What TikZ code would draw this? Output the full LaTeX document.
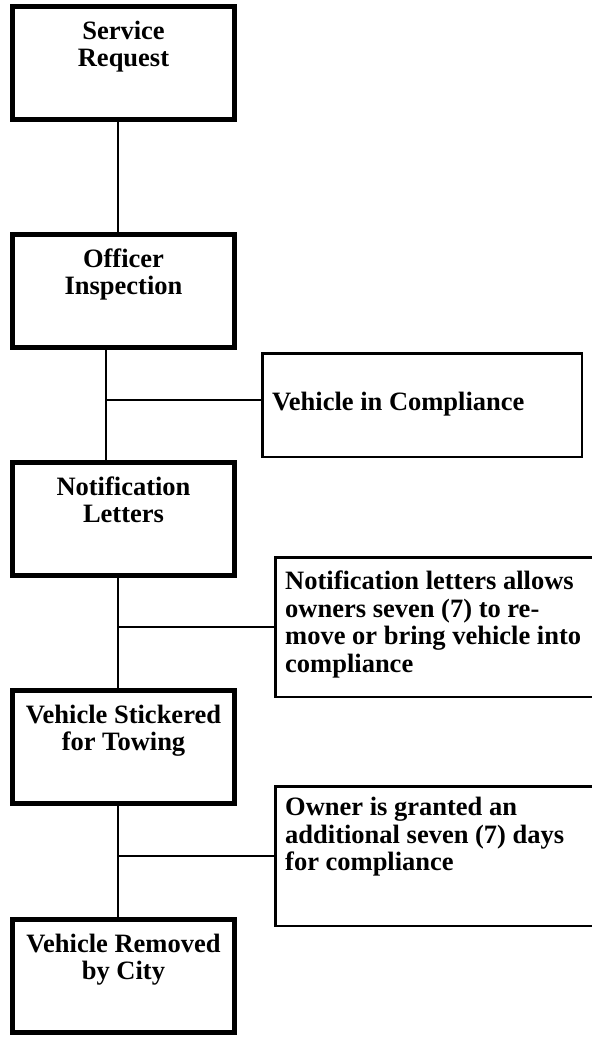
\documentclass[tikz,border=0pt]{standalone}
\usepackage{fontspec}
\setmainfont{Liberation Serif}
\usetikzlibrary{positioning}

\begin{document}
\begin{tikzpicture}[x = 1pt, y = -1pt, font = \fontsize{26.5}{27.5}\selectfont\bfseries,
  stage/.style = {draw, line width = 5pt, inner sep = 0pt, outer sep = 0pt, minimum width = 222pt, minimum height = 113pt},
  note/.style = {draw, line width = 2.5pt, inner sep = 0pt, outer sep = 0pt, anchor = north west},
  stagetext/.style = {align = center, inner sep = 0pt},
  notetext/.style = {align = left, inner sep = 0pt, anchor = north west},
  link/.style = {line width = 2.5pt}]
  \useasboundingbox (0, 0) rectangle (592, 1037);
  \clip (0, 0) rectangle (592, 1037);

  % main steps
  \node (request) [stage, anchor = north west] at (12.5, 6.5) {};
  \node (officer) [stage, below = 115pt of request] {};
  \node (letters) [stage, below = 115pt of officer] {};
  \node (sticker) [stage, below = 115pt of letters] {};
  \node (removed) [stage, below = 116pt of sticker] {};

  \node (requesttext) [stagetext, below = 14pt of request.north] {Service\\Request};
  \node (officertext) [stagetext, below = 14pt of officer.north] {Officer\\Inspection};
  \node (letterstext) [stagetext, below = 14pt of letters.north] {Notification\\Letters};
  \node (stickertext) [stagetext, below = 14pt of sticker.north] {Vehicle Stickered\\for Towing};
  \node (removedtext) [stagetext, below = 14pt of removed.north] {Vehicle Removed\\by City};

  % side notes
  \node (compliance) [note, minimum width = 319.5pt, minimum height = 103.5pt] at (262.25, 353.25) {};
  \node (notice) [note, minimum width = 330pt, minimum height = 139.5pt] at (275.25, 557.25) {};
  \node (extension) [note, minimum width = 330pt, minimum height = 139.5pt] at (275.25, 786.25) {};

  \node (compliancetext) [notetext] at (272, 392) {Vehicle in Compliance};
  \node (noticetext) [notetext] at (285, 571) {Notification letters allows\\owners seven (7) to re-\\move or bring vehicle into\\compliance};
  \node (extensiontext) [notetext] at (285, 797) {Owner is granted an\\additional seven (7) days\\for compliance};

  % connectors
  \coordinate (fork1) at (106, 400);
  \coordinate (fork2) at (118, 627);
  \coordinate (fork3) at (118, 856);

  \draw [link] ([xshift = -5.5pt]request.south) -- ([xshift = -5.5pt]officer.north);
  \draw [link] ([xshift = -17.5pt]officer.south) -- ([xshift = -17.5pt]letters.north);
  \draw [link] ([xshift = -5.5pt]letters.south) -- ([xshift = -5.5pt]sticker.north);
  \draw [link] ([xshift = -5.5pt]sticker.south) -- ([xshift = -5.5pt]removed.north);
  \draw [link] (fork1) -- (fork1 -| compliance.west);
  \draw [link] (fork2) -- (fork2 -| notice.west);
  \draw [link] (fork3) -- (fork3 -| extension.west);
\end{tikzpicture}
\end{document}
